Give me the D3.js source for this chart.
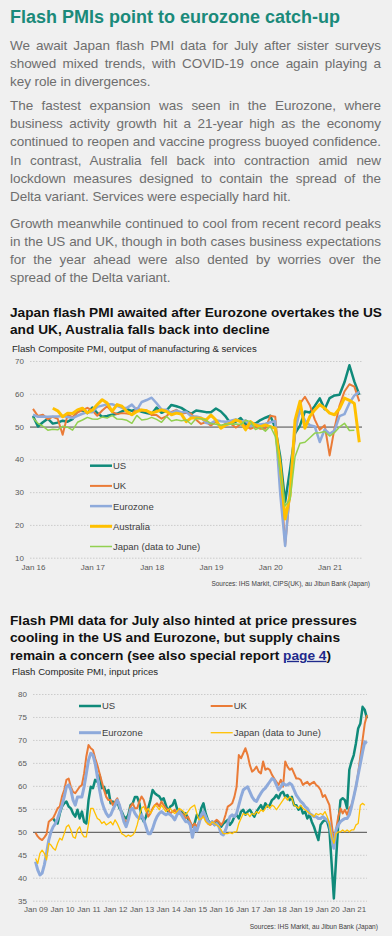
<!DOCTYPE html>
<html>
<head>
<meta charset="utf-8">
<script src="https://cdnjs.cloudflare.com/ajax/libs/d3/7.8.5/d3.min.js"></script>
<style>
    body { margin: 0; background: #f0f0f0; }
    #page {
        position: relative;
        width: 392px;
        height: 936px;
        overflow: hidden;
        font-family: Arial, "Liberation Sans", sans-serif;
    }
    #page svg { position: absolute; left: 0; top: 0; }
    .para {
        position: absolute;
        left: 10px;
        width: 371px;
        font-size: 13.5px;
        line-height: 18.2px;
        letter-spacing: -0.06px;
        color: #6e6e6e;
    }
    .para span {
        display: block;
        white-space: nowrap;
        text-align: justify;
        text-align-last: justify;
    }
    .para span.last { text-align-last: left; }
</style>
</head>
<body>
<div id="page"></div>
<script>
    // ---- chart 1: flash composite PMI output, monthly Jan 16 .. Jul 21
    const outputTicks = ["Jan 16", "Jan 17", "Jan 18", "Jan 19", "Jan 20", "Jan 21"];
    const usOutput = [
        53.2, 50.0, 51.3, 52.4, 50.9, 51.2, 51.8, 51.5, 52.3, 54.9, 54.9, 54.1,
        55.8, 54.1, 53.0, 53.2, 53.6, 53.9, 54.6, 55.3, 54.8, 55.2, 54.5, 54.1,
        53.8, 55.8, 54.2, 54.9, 56.6, 56.2, 55.7, 54.7, 53.9, 54.9, 54.7, 54.4,
        54.4, 55.5, 54.6, 53.0, 50.9, 51.5, 52.6, 50.7, 51.0, 50.9, 52.0, 52.7,
        53.3, 49.6, 40.9, 27.0, 37.0, 47.9, 50.3, 54.6, 54.3, 56.3, 58.6, 55.3,
        58.7, 59.5, 59.7, 63.5, 68.7, 63.7, 59.7
    ];
    const ukOutput = [
        55.4, 53.2, 53.6, 52.2, 53.0, 52.4, 47.5, 53.6, 52.9, 54.3, 55.0, 55.7,
        54.9, 53.3, 54.9, 56.2, 54.5, 53.8, 54.1, 54.0, 53.7, 55.6, 54.9, 54.9,
        53.5, 53.5, 52.4, 53.2, 54.5, 55.1, 53.9, 54.2, 53.9, 52.1, 50.8, 51.4,
        50.3, 51.5, 50.0, 50.9, 50.9, 49.7, 50.7, 50.2, 49.3, 50.0, 49.3, 49.3,
        53.3, 53.0, 36.0, 13.8, 30.0, 47.7, 57.0, 59.1, 56.5, 52.1, 49.0, 50.4,
        41.2, 49.6, 56.4, 60.7, 62.9, 62.2, 57.7
    ];
    const ezOutput = [
        53.6, 53.0, 53.1, 53.0, 53.1, 53.1, 53.2, 52.9, 52.6, 53.3, 53.9, 54.4,
        54.4, 56.0, 56.4, 56.8, 56.8, 56.3, 55.7, 55.7, 56.7, 55.0, 57.5, 58.1,
        58.8, 57.1, 55.2, 55.1, 54.1, 54.9, 54.3, 54.5, 53.1, 53.1, 52.7, 51.1,
        51.0, 51.9, 51.6, 51.5, 51.8, 52.2, 51.5, 51.9, 50.1, 50.6, 50.6, 50.9,
        51.3, 51.6, 29.7, 13.6, 31.9, 48.5, 54.9, 51.9, 50.4, 50.0, 45.3, 49.1,
        47.8, 48.8, 53.2, 53.8, 57.1, 59.5, 60.6
    ];
    const auOutput = [
        null, null, null, null, 55.6, 54.8, 53.0, 54.1, 54.0, 55.1, 55.6, 54.2,
        55.0, 56.7, 58.2, 57.2, 54.6, 56.7, 56.2, 54.6, 53.6, 54.6, 55.1, 54.8,
        54.1, 54.6, 55.1, 54.6, 53.6, 54.1, 53.8, 51.5, 52.6, 52.6, 52.5, 52.0,
        53.5, 52.0, 49.5, 50.5, 51.0, 52.0, 51.5, 49.0, 51.5, 50.5, 50.0, 50.5,
        50.0, 49.5, 38.2, 21.8, 29.0, 52.0, 57.7, 49.5, 53.1, 55.1, 56.7, 55.6,
        54.1, 53.6, 55.5, 58.7, 58.0, 57.0, 45.2
    ];
    const jpOutput = [
        52.6, 51.0, 50.1, 48.9, 49.2, 49.0, 50.1, 49.8, 48.9, 51.3, 52.0, 52.8,
        52.3, 52.2, 52.9, 52.6, 53.4, 52.3, 52.2, 51.9, 51.0, 53.4, 52.0, 52.2,
        52.8, 52.2, 51.3, 53.1, 51.7, 52.1, 51.8, 52.0, 50.7, 52.5, 52.4, 52.0,
        50.9, 50.7, 50.4, 50.8, 50.7, 50.8, 50.6, 51.9, 51.5, 49.1, 49.8, 48.6,
        50.1, 47.0, 36.2, 25.8, 27.8, 40.8, 44.9, 45.2, 46.6, 48.0, 48.1, 48.5,
        47.1, 48.2, 49.9, 51.0, 48.8, 48.9
    ];

    // ---- chart 2: flash composite PMI input prices, monthly Jan 09 .. Jul 21
    const priceTicks = ["Jan 09", "Jan 10", "Jan 11", "Jan 12", "Jan 13", "Jan 14", "Jan 15",
                        "Jan 16", "Jan 17", "Jan 18", "Jan 19", "Jan 20", "Jan 21"];
    const usPrices = [
        null, null, null, null, null, null, null, null, 52.9, 52.2, 51.8, 54.0,
        55.5, 56.2, 56.6, 55.5, 55.1, 54.0, 53.3, 54.8, 52.9, 54.4, 52.2, 51.8,
        56.9, 59.8, 59.5, 61.3, 60.9, 62.4, 59.5, 59.8, 58.4, 59.1, 56.2, 56.6,
        55.8, 56.6, 55.1, 54.4, 53.3, 52.9, 53.7, 55.8, 56.2, 57.6, 57.6, 56.2,
        53.3, 52.2, 53.3, 55.1, 56.9, 59.1, 58.4, 58.0, 57.7, 56.9, 57.3, 55.8,
        54.4, 55.5, 55.8, 56.9, 55.1, 54.0, 54.4, 53.7, 54.0, 52.9, 51.8, 51.1,
        51.8, 53.7, 52.9, 55.1, 56.2, 54.0, 52.6, 51.8, 52.2, 51.5, 52.2, 51.8,
        51.1, 51.8, 52.2, 52.6, 51.5, 52.2, 53.3, 53.7, 52.9, 54.4, 54.8, 53.7,
        54.4, 54.8, 54.0, 53.3, 54.4, 55.1, 55.8, 54.8, 56.2, 55.5, 55.8, 56.9,
        57.3, 58.0, 57.3, 58.4, 58.7, 57.6, 58.0, 56.9, 57.6, 55.8, 55.8, 54.8,
        55.5, 54.0, 54.4, 52.9, 53.7, 52.2, 51.1, 49.6, 48.2, 51.5, 52.2, 52.6,
        52.2, 50.4, 43.1, 35.5, 43.9, 51.8, 56.9, 57.3, 56.9, 55.1, 63.5, 65.3,
        66.7, 69.3, 72.5, 73.6, 77.2, 76.5, 74.7
    ];
    const ukPrices = [
        49.8, 49.0, 48.5, 48.2, 48.8, 49.5, 52.2, 52.6, 53.0, 54.0, 55.1, 55.5,
        57.7, 59.1, 61.3, 61.6, 59.8, 58.7, 58.4, 59.1, 59.8, 60.2, 62.7, 66.4,
        68.9, 68.2, 67.8, 66.0, 64.5, 62.7, 60.9, 59.1, 57.6, 56.9, 56.9, 55.8,
        56.6, 57.3, 55.8, 54.0, 52.9, 51.8, 52.9, 55.5, 56.2, 55.1, 55.1, 56.6,
        57.7, 56.9, 55.1, 53.3, 54.0, 55.1, 55.8, 56.2, 55.5, 56.6, 55.8, 55.1,
        54.8, 54.0, 54.4, 54.8, 54.0, 54.8, 54.0, 53.7, 52.9, 53.3, 52.2, 51.1,
        51.8, 51.1, 52.2, 52.9, 53.7, 52.6, 51.8, 51.5, 51.8, 52.2, 52.6, 52.2,
        51.5, 52.2, 53.7, 55.5, 55.8, 56.2, 57.6, 59.8, 66.7, 66.0, 67.1, 68.2,
        66.7, 64.5, 63.1, 63.5, 64.2, 63.1, 62.7, 65.3, 63.5, 63.8, 63.5, 62.4,
        61.6, 60.9, 60.2, 61.3, 59.8, 65.3, 64.2, 63.5, 63.8, 62.7, 61.6, 61.6,
        61.3, 60.2, 60.6, 60.9, 60.2, 60.6, 60.9, 60.2, 59.8, 59.1, 57.6, 58.0,
        56.9, 55.8, 51.8, 47.9, 50.4, 53.3, 55.1, 54.0, 54.8, 53.7, 55.1, 55.8,
        57.6, 59.8, 62.7, 66.4, 70.0, 73.6, 75.4
    ];
    const ezPrices = [
        43.5, 41.7, 40.6, 41.0, 42.8, 45.3, 48.2, 50.0, 51.1, 51.8, 52.9, 54.4,
        55.8, 57.6, 59.8, 60.2, 59.1, 56.9, 55.8, 57.6, 57.6, 57.6, 59.8, 62.7,
        65.6, 67.1, 66.7, 64.9, 62.0, 59.1, 56.6, 55.1, 54.0, 53.3, 53.7, 54.8,
        55.8, 56.9, 55.8, 54.0, 52.2, 51.1, 52.6, 54.8, 55.1, 54.0, 53.3, 52.9,
        53.7, 52.6, 51.1, 49.6, 49.6, 50.7, 52.2, 53.3, 54.0, 54.4, 54.0, 53.7,
        54.0, 53.7, 53.3, 52.6, 53.7, 54.4, 53.7, 52.9, 52.2, 52.2, 51.5, 48.8,
        51.0, 50.2, 51.8, 53.7, 54.4, 53.3, 52.2, 51.8, 52.2, 51.5, 51.8, 51.1,
        49.6, 49.3, 50.4, 51.8, 53.3, 53.7, 53.3, 54.0, 55.8, 57.6, 59.1, 59.5,
        59.8, 58.7, 57.6, 56.9, 56.6, 57.6, 58.4, 59.1, 59.5, 60.2, 60.9, 61.6,
        61.3, 60.2, 59.1, 59.8, 60.6, 60.2, 60.2, 60.6, 60.2, 59.1, 58.0, 57.3,
        56.6, 56.2, 55.5, 55.1, 54.0, 53.7, 53.3, 53.3, 52.9, 52.9, 53.3, 52.9,
        52.6, 51.8, 48.9, 46.4, 50.4, 51.5, 52.2, 52.6, 52.9, 52.9, 53.7, 55.5,
        57.6, 59.8, 62.4, 64.9, 67.4, 69.6, 69.3
    ];
    const jpPrices = [
        44.2, 43.1, 45.3, 46.0, 45.3, 43.9, 47.5, 47.1, 46.4, 46.0, 47.5, 48.6,
        48.2, 49.6, 51.1, 51.5, 50.4, 48.9, 48.6, 50.4, 51.1, 49.6, 48.9, 48.9,
        51.8, 55.1, 55.1, 54.0, 52.9, 52.6, 51.8, 52.2, 51.5, 51.8, 52.2, 51.5,
        52.6, 51.8, 50.7, 49.6, 49.3, 48.9, 49.3, 49.0, 49.3, 50.0, 51.5, 53.5,
        55.1, 55.5, 54.4, 55.1, 54.0, 54.8, 55.8, 55.5, 54.8, 55.8, 55.1, 54.4,
        54.8, 55.1, 54.4, 54.0, 54.4, 55.1, 54.8, 54.4, 53.7, 54.4, 55.1, 55.5,
        55.8, 54.0, 52.6, 52.9, 53.3, 52.2, 51.8, 51.5, 52.2, 51.8, 51.5, 51.1,
        50.4, 49.6, 49.6, 49.6, 49.8, 49.6, 50.0, 50.0, 51.8, 52.9, 54.0, 53.7,
        54.0, 53.3, 54.0, 53.7, 54.4, 54.0, 54.8, 54.4, 55.1, 55.8, 55.1, 55.8,
        55.5, 54.8, 55.5, 56.2, 56.9, 57.6, 56.9, 57.6, 57.3, 55.8, 55.5, 55.1,
        55.8, 55.1, 54.8, 54.4, 54.0, 53.7, 53.3, 54.0, 53.7, 54.0, 53.7, 54.4,
        53.3, 51.8, 48.9, 47.5, 49.6, 50.0, 50.0, 50.4, 50.0, 50.4, 50.0, 50.4,
        50.4, 51.5, 51.8, 55.8, 56.2, 55.8
    ];

    const paragraphs = [
        { top: 36.5, lines: [
            "We await Japan flash PMI data for July after sister surveys",
            "showed mixed trends, with COVID-19 once again playing a",
            "key role in divergences."] },
        { top: 97, lines: [
            "The fastest expansion was seen in the Eurozone, where",
            "business activity growth hit a 21-year high as the economy",
            "continued to reopen and vaccine progress buoyed confidence.",
            "In contrast, Australia fell back into contraction amid new",
            "lockdown measures designed to contain the spread of the",
            "Delta variant. Services were especially hard hit."] },
        { top: 214.7, lines: [
            "Growth meanwhile continued to cool from recent record peaks",
            "in the US and UK, though in both cases business expectations",
            "for the year ahead were also dented by worries over the",
            "spread of the Delta variant."] }
    ];

    const FONT = "Arial, 'Liberation Sans', sans-serif";
    const page = d3.select("#page");
    const svg = page.append("svg").attr("width", 392).attr("height", 936);

    svg.append("text")
        .attr("x", 10).attr("y", 22.5)
        .attr("font-family", FONT).attr("font-size", 18).attr("font-weight", "bold")
        .attr("fill", "#1b8a7a")
        .text("Flash PMIs point to eurozone catch-up");

    page.selectAll("div.para")
        .data(paragraphs)
        .join("div")
        .attr("class", "para")
        .style("top", d => d.top + "px")
        .selectAll("span")
        .data(d => d.lines)
        .join("span")
        .classed("last", (d, i, n) => i === n.length - 1)
        .text(d => d);

    function heading(lines, y0) {
        lines.forEach((line, i) => {
            const t = svg.append("text")
                .attr("x", 10).attr("y", y0 + i * 17.4)
                .attr("font-family", FONT).attr("font-size", 13.7).attr("font-weight", "bold")
                .attr("fill", "#111");
            line.forEach(part => {
                const ts = t.append("tspan").text(part.text);
                if (part.link) ts.attr("fill", "#1f2a8c").attr("text-decoration", "underline");
            });
        });
    }

    function smallText(x, y, str, size, color, anchor) {
        svg.append("text")
            .attr("x", x).attr("y", y)
            .attr("font-family", FONT).attr("font-size", size)
            .attr("fill", color).attr("text-anchor", anchor || "start")
            .text(str);
    }

    function panel(cfg) {
        const x = d3.scaleLinear().domain(cfg.xDomain).range(cfg.xRange);
        const y = d3.scaleLinear().domain(cfg.yDomain).range(cfg.yRange);
        const gridW = cfg.gridX[1] - cfg.gridX[0];

        // y axis with dotted gridlines
        const yAxis = svg.append("g")
            .attr("transform", `translate(${cfg.gridX[0]},0)`)
            .call(d3.axisLeft(y).tickValues(cfg.yTicks).tickSize(-gridW).tickPadding(6));
        yAxis.select(".domain").remove();
        yAxis.selectAll(".tick line")
            .attr("stroke", d => d === 50 ? "#4a4a4a" : "#c2c2c2")
            .attr("stroke-width", d => d === 50 ? 1 : 0.8)
            .attr("stroke-dasharray", d => d === 50 ? null : "1.5,1.5");
        yAxis.selectAll(".tick text")
            .attr("font-family", FONT).attr("font-size", 8).attr("fill", "#595959");

        // x axis, labels only
        const xAxis = svg.append("g")
            .attr("transform", `translate(0,${cfg.yRange[0]})`)
            .call(d3.axisBottom(x)
                .tickValues(cfg.xTicks.map((d, i) => i * 12))
                .tickFormat((d, i) => cfg.xTicks[i])
                .tickSize(0).tickPadding(cfg.xPad));
        xAxis.select(".domain").remove();
        xAxis.selectAll(".tick text")
            .attr("font-family", FONT).attr("font-size", 8).attr("fill", "#595959");

        const line = d3.line()
            .defined(d => d != null)
            .x((d, i) => x(i))
            .y(d => y(d));

        cfg.series.forEach(s => {
            svg.append("path")
                .datum(s.values)
                .attr("d", line)
                .attr("fill", "none")
                .attr("stroke", s.color)
                .attr("stroke-width", s.width)
                .attr("stroke-linejoin", "round");
        });

        // legend
        cfg.series.forEach(s => {
            svg.append("line")
                .attr("x1", s.lx).attr("x2", s.lx + 22)
                .attr("y1", s.ly).attr("y2", s.ly)
                .attr("stroke", s.color).attr("stroke-width", s.width);
            smallText(s.lx + 23, s.ly + 3.4, s.name, 9.5, "#404040");
        });
    }

    // ---- chart 1
    heading([
        [{ text: "Japan flash PMI awaited after Eurozone overtakes the US" }],
        [{ text: "and UK, Australia falls back into decline" }]
    ], 316.5);
    smallText(12, 351.5, "Flash Composite PMI, output of manufacturing & services", 9.6, "#262626");

    panel({
        xDomain: [0, 66], xRange: [33, 359.3],
        yDomain: [10, 70], yRange: [557.7, 361],
        gridX: [30, 362],
        yTicks: [10, 20, 30, 40, 50, 60, 70],
        xTicks: outputTicks, xPad: 6.6,
        series: [
            { name: "US", values: usOutput, color: "#0f8a7a", width: 2.5, lx: 90, ly: 465.7 },
            { name: "UK", values: ukOutput, color: "#ea7b37", width: 2, lx: 90, ly: 485.9 },
            { name: "Eurozone", values: ezOutput, color: "#8eaadb", width: 2.5, lx: 90, ly: 506.1 },
            { name: "Australia", values: auOutput, color: "#ffc000", width: 3, lx: 90, ly: 526.3 },
            { name: "Japan (data to June)", values: jpOutput, color: "#92d050", width: 1.5, lx: 90, ly: 546.5 }
        ]
    });
    smallText(370, 586, "Sources: IHS Markit, CIPS(UK), au Jibun Bank (Japan)", 6.5, "#404040", "end");

    // ---- chart 2
    heading([
        [{ text: "Flash PMI data for July also hinted at price pressures" }],
        [{ text: "cooling in the US and Eurozone, but supply chains" }],
        [{ text: "remain a concern (see also special report " }, { text: "page 4", link: true }, { text: ")" }]
    ], 625);
    smallText(12, 674.5, "Flash Composite PMI, input prices", 9.6, "#262626");

    panel({
        xDomain: [0, 150], xRange: [35.5, 367],
        yDomain: [35, 80], yRange: [900.7, 694],
        gridX: [33, 367],
        yTicks: [35, 40, 45, 50, 55, 60, 65, 70, 75, 80],
        xTicks: priceTicks, xPad: 5.6,
        series: [
            { name: "US", values: usPrices, color: "#0f8a7a", width: 2.5, lx: 79, ly: 706 },
            { name: "UK", values: ukPrices, color: "#ea7b37", width: 2, lx: 210.7, ly: 706 },
            { name: "Eurozone", values: ezPrices, color: "#8eaadb", width: 3, lx: 79, ly: 732.7 },
            { name: "Japan (data to June)", values: jpPrices, color: "#ffc000", width: 1.3, lx: 210.7, ly: 732.7 }
        ]
    });
    smallText(378, 929, "Sources: IHS Markit, au Jibun Bank (Japan)", 6.6, "#404040", "end");
</script>
</body>
</html>
